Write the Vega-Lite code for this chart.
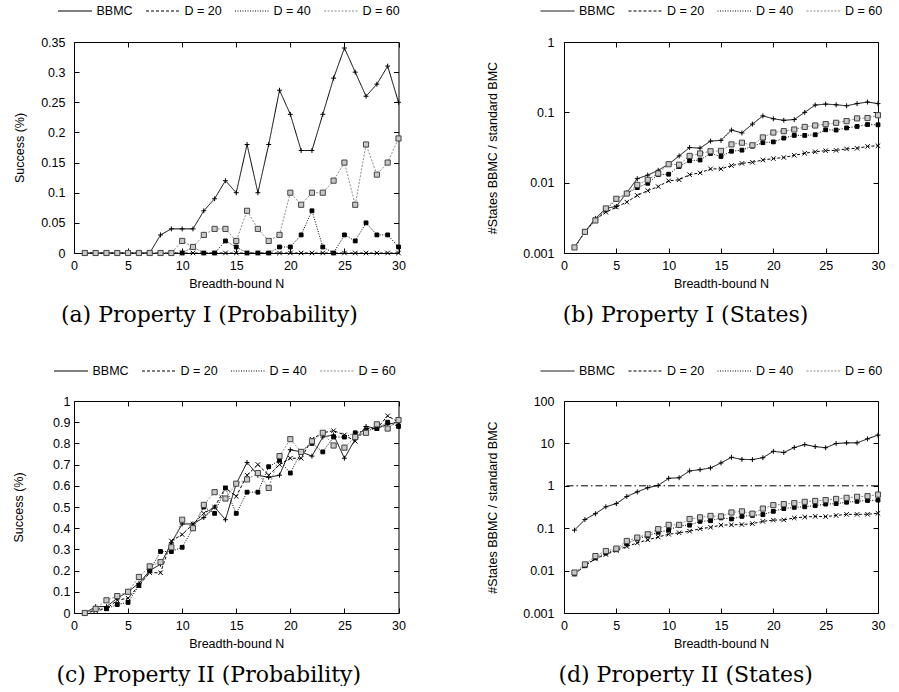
{
"$schema": "https://vega.github.io/schema/vega-lite/v6.json",
"padding": {"left": 11, "top": 3, "right": 0, "bottom": 0},
"autosize": {"type": "pad"},
"background": "white",
"datasets": {
"a": [
{"s":"BBMC","n":1,"v":0},{"s":"BBMC","n":2,"v":0},{"s":"BBMC","n":3,"v":0},{"s":"BBMC","n":4,"v":0},{"s":"BBMC","n":5,"v":0},{"s":"BBMC","n":6,"v":0},{"s":"BBMC","n":7,"v":0},{"s":"BBMC","n":8,"v":0.03},{"s":"BBMC","n":9,"v":0.04},{"s":"BBMC","n":10,"v":0.04},{"s":"BBMC","n":11,"v":0.04},{"s":"BBMC","n":12,"v":0.07},{"s":"BBMC","n":13,"v":0.09},{"s":"BBMC","n":14,"v":0.12},{"s":"BBMC","n":15,"v":0.10},{"s":"BBMC","n":16,"v":0.18},{"s":"BBMC","n":17,"v":0.10},{"s":"BBMC","n":18,"v":0.18},{"s":"BBMC","n":19,"v":0.27},{"s":"BBMC","n":20,"v":0.23},{"s":"BBMC","n":21,"v":0.17},{"s":"BBMC","n":22,"v":0.17},{"s":"BBMC","n":23,"v":0.23},{"s":"BBMC","n":24,"v":0.29},{"s":"BBMC","n":25,"v":0.34},{"s":"BBMC","n":26,"v":0.30},{"s":"BBMC","n":27,"v":0.26},{"s":"BBMC","n":28,"v":0.28},{"s":"BBMC","n":29,"v":0.31},{"s":"BBMC","n":30,"v":0.25},
{"s":"D = 20","n":1,"v":0},{"s":"D = 20","n":2,"v":0},{"s":"D = 20","n":3,"v":0},{"s":"D = 20","n":4,"v":0},{"s":"D = 20","n":5,"v":0},{"s":"D = 20","n":6,"v":0},{"s":"D = 20","n":7,"v":0},{"s":"D = 20","n":8,"v":0},{"s":"D = 20","n":9,"v":0},{"s":"D = 20","n":10,"v":0},{"s":"D = 20","n":11,"v":0},{"s":"D = 20","n":12,"v":0},{"s":"D = 20","n":13,"v":0},{"s":"D = 20","n":14,"v":0},{"s":"D = 20","n":15,"v":0},{"s":"D = 20","n":16,"v":0},{"s":"D = 20","n":17,"v":0},{"s":"D = 20","n":18,"v":0},{"s":"D = 20","n":19,"v":0},{"s":"D = 20","n":20,"v":0},{"s":"D = 20","n":21,"v":0},{"s":"D = 20","n":22,"v":0},{"s":"D = 20","n":23,"v":0},{"s":"D = 20","n":24,"v":0},{"s":"D = 20","n":25,"v":0},{"s":"D = 20","n":26,"v":0},{"s":"D = 20","n":27,"v":0},{"s":"D = 20","n":28,"v":0},{"s":"D = 20","n":29,"v":0},{"s":"D = 20","n":30,"v":0},
{"s":"D = 40","n":1,"v":0},{"s":"D = 40","n":2,"v":0},{"s":"D = 40","n":3,"v":0},{"s":"D = 40","n":4,"v":0},{"s":"D = 40","n":5,"v":0},{"s":"D = 40","n":6,"v":0},{"s":"D = 40","n":7,"v":0},{"s":"D = 40","n":8,"v":0},{"s":"D = 40","n":9,"v":0},{"s":"D = 40","n":10,"v":0},{"s":"D = 40","n":11,"v":0.01},{"s":"D = 40","n":12,"v":0},{"s":"D = 40","n":13,"v":0},{"s":"D = 40","n":14,"v":0.02},{"s":"D = 40","n":15,"v":0.01},{"s":"D = 40","n":16,"v":0},{"s":"D = 40","n":17,"v":0},{"s":"D = 40","n":18,"v":0},{"s":"D = 40","n":19,"v":0.01},{"s":"D = 40","n":20,"v":0.01},{"s":"D = 40","n":21,"v":0.03},{"s":"D = 40","n":22,"v":0.07},{"s":"D = 40","n":23,"v":0.01},{"s":"D = 40","n":24,"v":0},{"s":"D = 40","n":25,"v":0.03},{"s":"D = 40","n":26,"v":0.02},{"s":"D = 40","n":27,"v":0.05},{"s":"D = 40","n":28,"v":0.03},{"s":"D = 40","n":29,"v":0.03},{"s":"D = 40","n":30,"v":0.01},
{"s":"D = 60","n":1,"v":0},{"s":"D = 60","n":2,"v":0},{"s":"D = 60","n":3,"v":0},{"s":"D = 60","n":4,"v":0},{"s":"D = 60","n":5,"v":0},{"s":"D = 60","n":6,"v":0},{"s":"D = 60","n":7,"v":0},{"s":"D = 60","n":8,"v":0},{"s":"D = 60","n":9,"v":0},{"s":"D = 60","n":10,"v":0.02},{"s":"D = 60","n":11,"v":0.01},{"s":"D = 60","n":12,"v":0.03},{"s":"D = 60","n":13,"v":0.04},{"s":"D = 60","n":14,"v":0.04},{"s":"D = 60","n":15,"v":0.02},{"s":"D = 60","n":16,"v":0.07},{"s":"D = 60","n":17,"v":0.04},{"s":"D = 60","n":18,"v":0.02},{"s":"D = 60","n":19,"v":0.03},{"s":"D = 60","n":20,"v":0.10},{"s":"D = 60","n":21,"v":0.08},{"s":"D = 60","n":22,"v":0.10},{"s":"D = 60","n":23,"v":0.10},{"s":"D = 60","n":24,"v":0.12},{"s":"D = 60","n":25,"v":0.15},{"s":"D = 60","n":26,"v":0.08},{"s":"D = 60","n":27,"v":0.18},{"s":"D = 60","n":28,"v":0.13},{"s":"D = 60","n":29,"v":0.15},{"s":"D = 60","n":30,"v":0.19}
],
"b": [
{"s":"BBMC","n":1,"v":0.0012},{"s":"BBMC","n":2,"v":0.002},{"s":"BBMC","n":3,"v":0.0031},{"s":"BBMC","n":4,"v":0.0043},{"s":"BBMC","n":5,"v":0.0046},{"s":"BBMC","n":6,"v":0.0072},{"s":"BBMC","n":7,"v":0.0114},{"s":"BBMC","n":8,"v":0.0128},{"s":"BBMC","n":9,"v":0.015},{"s":"BBMC","n":10,"v":0.0183},{"s":"BBMC","n":11,"v":0.024},{"s":"BBMC","n":12,"v":0.0316},{"s":"BBMC","n":13,"v":0.031},{"s":"BBMC","n":14,"v":0.039},{"s":"BBMC","n":15,"v":0.040},{"s":"BBMC","n":16,"v":0.056},{"s":"BBMC","n":17,"v":0.051},{"s":"BBMC","n":18,"v":0.068},{"s":"BBMC","n":19,"v":0.089},{"s":"BBMC","n":20,"v":0.081},{"s":"BBMC","n":21,"v":0.077},{"s":"BBMC","n":22,"v":0.079},{"s":"BBMC","n":23,"v":0.10},{"s":"BBMC","n":24,"v":0.127},{"s":"BBMC","n":25,"v":0.131},{"s":"BBMC","n":26,"v":0.128},{"s":"BBMC","n":27,"v":0.124},{"s":"BBMC","n":28,"v":0.133},{"s":"BBMC","n":29,"v":0.14},{"s":"BBMC","n":30,"v":0.133},
{"s":"D = 20","n":1,"v":0.0012},{"s":"D = 20","n":2,"v":0.002},{"s":"D = 20","n":3,"v":0.003},{"s":"D = 20","n":4,"v":0.0038},{"s":"D = 20","n":5,"v":0.0045},{"s":"D = 20","n":6,"v":0.0053},{"s":"D = 20","n":7,"v":0.0066},{"s":"D = 20","n":8,"v":0.0077},{"s":"D = 20","n":9,"v":0.0088},{"s":"D = 20","n":10,"v":0.0106},{"s":"D = 20","n":11,"v":0.011},{"s":"D = 20","n":12,"v":0.013},{"s":"D = 20","n":13,"v":0.0138},{"s":"D = 20","n":14,"v":0.0157},{"s":"D = 20","n":15,"v":0.0157},{"s":"D = 20","n":16,"v":0.0175},{"s":"D = 20","n":17,"v":0.0188},{"s":"D = 20","n":18,"v":0.0195},{"s":"D = 20","n":19,"v":0.021},{"s":"D = 20","n":20,"v":0.022},{"s":"D = 20","n":21,"v":0.0228},{"s":"D = 20","n":22,"v":0.0245},{"s":"D = 20","n":23,"v":0.0262},{"s":"D = 20","n":24,"v":0.0275},{"s":"D = 20","n":25,"v":0.0285},{"s":"D = 20","n":26,"v":0.0288},{"s":"D = 20","n":27,"v":0.0302},{"s":"D = 20","n":28,"v":0.0308},{"s":"D = 20","n":29,"v":0.0328},{"s":"D = 20","n":30,"v":0.0335},
{"s":"D = 40","n":1,"v":0.0012},{"s":"D = 40","n":2,"v":0.002},{"s":"D = 40","n":3,"v":0.0029},{"s":"D = 40","n":4,"v":0.0041},{"s":"D = 40","n":5,"v":0.0058},{"s":"D = 40","n":6,"v":0.007},{"s":"D = 40","n":7,"v":0.0085},{"s":"D = 40","n":8,"v":0.0098},{"s":"D = 40","n":9,"v":0.013},{"s":"D = 40","n":10,"v":0.0132},{"s":"D = 40","n":11,"v":0.017},{"s":"D = 40","n":12,"v":0.0205},{"s":"D = 40","n":13,"v":0.021},{"s":"D = 40","n":14,"v":0.026},{"s":"D = 40","n":15,"v":0.0236},{"s":"D = 40","n":16,"v":0.028},{"s":"D = 40","n":17,"v":0.029},{"s":"D = 40","n":18,"v":0.033},{"s":"D = 40","n":19,"v":0.037},{"s":"D = 40","n":20,"v":0.038},{"s":"D = 40","n":21,"v":0.043},{"s":"D = 40","n":22,"v":0.047},{"s":"D = 40","n":23,"v":0.047},{"s":"D = 40","n":24,"v":0.048},{"s":"D = 40","n":25,"v":0.0564},{"s":"D = 40","n":26,"v":0.056},{"s":"D = 40","n":27,"v":0.060},{"s":"D = 40","n":28,"v":0.063},{"s":"D = 40","n":29,"v":0.067},{"s":"D = 40","n":30,"v":0.0665},
{"s":"D = 60","n":1,"v":0.0012},{"s":"D = 60","n":2,"v":0.002},{"s":"D = 60","n":3,"v":0.0029},{"s":"D = 60","n":4,"v":0.0043},{"s":"D = 60","n":5,"v":0.0059},{"s":"D = 60","n":6,"v":0.007},{"s":"D = 60","n":7,"v":0.0093},{"s":"D = 60","n":8,"v":0.011},{"s":"D = 60","n":9,"v":0.0135},{"s":"D = 60","n":10,"v":0.0183},{"s":"D = 60","n":11,"v":0.018},{"s":"D = 60","n":12,"v":0.024},{"s":"D = 60","n":13,"v":0.026},{"s":"D = 60","n":14,"v":0.028},{"s":"D = 60","n":15,"v":0.0283},{"s":"D = 60","n":16,"v":0.035},{"s":"D = 60","n":17,"v":0.037},{"s":"D = 60","n":18,"v":0.034},{"s":"D = 60","n":19,"v":0.044},{"s":"D = 60","n":20,"v":0.0516},{"s":"D = 60","n":21,"v":0.054},{"s":"D = 60","n":22,"v":0.057},{"s":"D = 60","n":23,"v":0.062},{"s":"D = 60","n":24,"v":0.065},{"s":"D = 60","n":25,"v":0.068},{"s":"D = 60","n":26,"v":0.071},{"s":"D = 60","n":27,"v":0.075},{"s":"D = 60","n":28,"v":0.082},{"s":"D = 60","n":29,"v":0.083},{"s":"D = 60","n":30,"v":0.091}
],
"c": [
{"s":"BBMC","n":1,"v":0},{"s":"BBMC","n":2,"v":0.03},{"s":"BBMC","n":3,"v":0.03},{"s":"BBMC","n":4,"v":0.07},{"s":"BBMC","n":5,"v":0.10},{"s":"BBMC","n":6,"v":0.14},{"s":"BBMC","n":7,"v":0.20},{"s":"BBMC","n":8,"v":0.23},{"s":"BBMC","n":9,"v":0.33},{"s":"BBMC","n":10,"v":0.42},{"s":"BBMC","n":11,"v":0.42},{"s":"BBMC","n":12,"v":0.45},{"s":"BBMC","n":13,"v":0.50},{"s":"BBMC","n":14,"v":0.44},{"s":"BBMC","n":15,"v":0.61},{"s":"BBMC","n":16,"v":0.71},{"s":"BBMC","n":17,"v":0.65},{"s":"BBMC","n":18,"v":0.64},{"s":"BBMC","n":19,"v":0.65},{"s":"BBMC","n":20,"v":0.77},{"s":"BBMC","n":21,"v":0.76},{"s":"BBMC","n":22,"v":0.74},{"s":"BBMC","n":23,"v":0.83},{"s":"BBMC","n":24,"v":0.84},{"s":"BBMC","n":25,"v":0.73},{"s":"BBMC","n":26,"v":0.82},{"s":"BBMC","n":27,"v":0.88},{"s":"BBMC","n":28,"v":0.87},{"s":"BBMC","n":29,"v":0.89},{"s":"BBMC","n":30,"v":0.90},
{"s":"D = 20","n":1,"v":0},{"s":"D = 20","n":2,"v":0.01},{"s":"D = 20","n":3,"v":0.02},{"s":"D = 20","n":4,"v":0.06},{"s":"D = 20","n":5,"v":0.07},{"s":"D = 20","n":6,"v":0.13},{"s":"D = 20","n":7,"v":0.19},{"s":"D = 20","n":8,"v":0.19},{"s":"D = 20","n":9,"v":0.34},{"s":"D = 20","n":10,"v":0.37},{"s":"D = 20","n":11,"v":0.42},{"s":"D = 20","n":12,"v":0.47},{"s":"D = 20","n":13,"v":0.50},{"s":"D = 20","n":14,"v":0.59},{"s":"D = 20","n":15,"v":0.55},{"s":"D = 20","n":16,"v":0.65},{"s":"D = 20","n":17,"v":0.70},{"s":"D = 20","n":18,"v":0.65},{"s":"D = 20","n":19,"v":0.70},{"s":"D = 20","n":20,"v":0.73},{"s":"D = 20","n":21,"v":0.73},{"s":"D = 20","n":22,"v":0.82},{"s":"D = 20","n":23,"v":0.85},{"s":"D = 20","n":24,"v":0.86},{"s":"D = 20","n":25,"v":0.84},{"s":"D = 20","n":26,"v":0.81},{"s":"D = 20","n":27,"v":0.87},{"s":"D = 20","n":28,"v":0.87},{"s":"D = 20","n":29,"v":0.93},{"s":"D = 20","n":30,"v":0.90},
{"s":"D = 40","n":1,"v":0},{"s":"D = 40","n":2,"v":0.02},{"s":"D = 40","n":3,"v":0.02},{"s":"D = 40","n":4,"v":0.04},{"s":"D = 40","n":5,"v":0.05},{"s":"D = 40","n":6,"v":0.13},{"s":"D = 40","n":7,"v":0.20},{"s":"D = 40","n":8,"v":0.29},{"s":"D = 40","n":9,"v":0.29},{"s":"D = 40","n":10,"v":0.31},{"s":"D = 40","n":11,"v":0.40},{"s":"D = 40","n":12,"v":0.50},{"s":"D = 40","n":13,"v":0.47},{"s":"D = 40","n":14,"v":0.59},{"s":"D = 40","n":15,"v":0.47},{"s":"D = 40","n":16,"v":0.57},{"s":"D = 40","n":17,"v":0.57},{"s":"D = 40","n":18,"v":0.69},{"s":"D = 40","n":19,"v":0.72},{"s":"D = 40","n":20,"v":0.66},{"s":"D = 40","n":21,"v":0.76},{"s":"D = 40","n":22,"v":0.80},{"s":"D = 40","n":23,"v":0.76},{"s":"D = 40","n":24,"v":0.83},{"s":"D = 40","n":25,"v":0.83},{"s":"D = 40","n":26,"v":0.85},{"s":"D = 40","n":27,"v":0.86},{"s":"D = 40","n":28,"v":0.87},{"s":"D = 40","n":29,"v":0.90},{"s":"D = 40","n":30,"v":0.88},
{"s":"D = 60","n":1,"v":0},{"s":"D = 60","n":2,"v":0.02},{"s":"D = 60","n":3,"v":0.06},{"s":"D = 60","n":4,"v":0.08},{"s":"D = 60","n":5,"v":0.10},{"s":"D = 60","n":6,"v":0.17},{"s":"D = 60","n":7,"v":0.22},{"s":"D = 60","n":8,"v":0.24},{"s":"D = 60","n":9,"v":0.31},{"s":"D = 60","n":10,"v":0.44},{"s":"D = 60","n":11,"v":0.40},{"s":"D = 60","n":12,"v":0.51},{"s":"D = 60","n":13,"v":0.57},{"s":"D = 60","n":14,"v":0.54},{"s":"D = 60","n":15,"v":0.61},{"s":"D = 60","n":16,"v":0.63},{"s":"D = 60","n":17,"v":0.66},{"s":"D = 60","n":18,"v":0.59},{"s":"D = 60","n":19,"v":0.74},{"s":"D = 60","n":20,"v":0.82},{"s":"D = 60","n":21,"v":0.76},{"s":"D = 60","n":22,"v":0.81},{"s":"D = 60","n":23,"v":0.85},{"s":"D = 60","n":24,"v":0.79},{"s":"D = 60","n":25,"v":0.78},{"s":"D = 60","n":26,"v":0.83},{"s":"D = 60","n":27,"v":0.85},{"s":"D = 60","n":28,"v":0.89},{"s":"D = 60","n":29,"v":0.87},{"s":"D = 60","n":30,"v":0.91}
],
"d": [
{"s":"BBMC","n":1,"v":0.09},{"s":"BBMC","n":2,"v":0.16},{"s":"BBMC","n":3,"v":0.22},{"s":"BBMC","n":4,"v":0.32},{"s":"BBMC","n":5,"v":0.38},{"s":"BBMC","n":6,"v":0.56},{"s":"BBMC","n":7,"v":0.72},{"s":"BBMC","n":8,"v":0.9},{"s":"BBMC","n":9,"v":1.02},{"s":"BBMC","n":10,"v":1.5},{"s":"BBMC","n":11,"v":1.55},{"s":"BBMC","n":12,"v":2.24},{"s":"BBMC","n":13,"v":2.4},{"s":"BBMC","n":14,"v":2.64},{"s":"BBMC","n":15,"v":3.46},{"s":"BBMC","n":16,"v":4.7},{"s":"BBMC","n":17,"v":4.2},{"s":"BBMC","n":18,"v":4.15},{"s":"BBMC","n":19,"v":4.6},{"s":"BBMC","n":20,"v":6.5},{"s":"BBMC","n":21,"v":6.1},{"s":"BBMC","n":22,"v":8.0},{"s":"BBMC","n":23,"v":9.4},{"s":"BBMC","n":24,"v":8.4},{"s":"BBMC","n":25,"v":7.9},{"s":"BBMC","n":26,"v":9.95},{"s":"BBMC","n":27,"v":10.3},{"s":"BBMC","n":28,"v":10.3},{"s":"BBMC","n":29,"v":12.8},{"s":"BBMC","n":30,"v":15.7},
{"s":"D = 20","n":1,"v":0.0083},{"s":"D = 20","n":2,"v":0.013},{"s":"D = 20","n":3,"v":0.019},{"s":"D = 20","n":4,"v":0.024},{"s":"D = 20","n":5,"v":0.03},{"s":"D = 20","n":6,"v":0.037},{"s":"D = 20","n":7,"v":0.045},{"s":"D = 20","n":8,"v":0.053},{"s":"D = 20","n":9,"v":0.062},{"s":"D = 20","n":10,"v":0.072},{"s":"D = 20","n":11,"v":0.078},{"s":"D = 20","n":12,"v":0.085},{"s":"D = 20","n":13,"v":0.097},{"s":"D = 20","n":14,"v":0.105},{"s":"D = 20","n":15,"v":0.118},{"s":"D = 20","n":16,"v":0.12},{"s":"D = 20","n":17,"v":0.122},{"s":"D = 20","n":18,"v":0.128},{"s":"D = 20","n":19,"v":0.145},{"s":"D = 20","n":20,"v":0.155},{"s":"D = 20","n":21,"v":0.157},{"s":"D = 20","n":22,"v":0.175},{"s":"D = 20","n":23,"v":0.183},{"s":"D = 20","n":24,"v":0.19},{"s":"D = 20","n":25,"v":0.188},{"s":"D = 20","n":26,"v":0.2},{"s":"D = 20","n":27,"v":0.212},{"s":"D = 20","n":28,"v":0.212},{"s":"D = 20","n":29,"v":0.213},{"s":"D = 20","n":30,"v":0.225},
{"s":"D = 40","n":1,"v":0.0083},{"s":"D = 40","n":2,"v":0.013},{"s":"D = 40","n":3,"v":0.02},{"s":"D = 40","n":4,"v":0.026},{"s":"D = 40","n":5,"v":0.031},{"s":"D = 40","n":6,"v":0.043},{"s":"D = 40","n":7,"v":0.056},{"s":"D = 40","n":8,"v":0.066},{"s":"D = 40","n":9,"v":0.08},{"s":"D = 40","n":10,"v":0.09},{"s":"D = 40","n":11,"v":0.115},{"s":"D = 40","n":12,"v":0.118},{"s":"D = 40","n":13,"v":0.145},{"s":"D = 40","n":14,"v":0.15},{"s":"D = 40","n":15,"v":0.175},{"s":"D = 40","n":16,"v":0.165},{"s":"D = 40","n":17,"v":0.19},{"s":"D = 40","n":18,"v":0.2},{"s":"D = 40","n":19,"v":0.21},{"s":"D = 40","n":20,"v":0.25},{"s":"D = 40","n":21,"v":0.29},{"s":"D = 40","n":22,"v":0.31},{"s":"D = 40","n":23,"v":0.32},{"s":"D = 40","n":24,"v":0.34},{"s":"D = 40","n":25,"v":0.37},{"s":"D = 40","n":26,"v":0.38},{"s":"D = 40","n":27,"v":0.41},{"s":"D = 40","n":28,"v":0.43},{"s":"D = 40","n":29,"v":0.45},{"s":"D = 40","n":30,"v":0.46},
{"s":"D = 60","n":1,"v":0.009},{"s":"D = 60","n":2,"v":0.014},{"s":"D = 60","n":3,"v":0.022},{"s":"D = 60","n":4,"v":0.029},{"s":"D = 60","n":5,"v":0.033},{"s":"D = 60","n":6,"v":0.05},{"s":"D = 60","n":7,"v":0.06},{"s":"D = 60","n":8,"v":0.072},{"s":"D = 60","n":9,"v":0.095},{"s":"D = 60","n":10,"v":0.12},{"s":"D = 60","n":11,"v":0.12},{"s":"D = 60","n":12,"v":0.165},{"s":"D = 60","n":13,"v":0.18},{"s":"D = 60","n":14,"v":0.195},{"s":"D = 60","n":15,"v":0.19},{"s":"D = 60","n":16,"v":0.235},{"s":"D = 60","n":17,"v":0.25},{"s":"D = 60","n":18,"v":0.22},{"s":"D = 60","n":19,"v":0.29},{"s":"D = 60","n":20,"v":0.35},{"s":"D = 60","n":21,"v":0.37},{"s":"D = 60","n":22,"v":0.39},{"s":"D = 60","n":23,"v":0.42},{"s":"D = 60","n":24,"v":0.44},{"s":"D = 60","n":25,"v":0.46},{"s":"D = 60","n":26,"v":0.49},{"s":"D = 60","n":27,"v":0.52},{"s":"D = 60","n":28,"v":0.55},{"s":"D = 60","n":29,"v":0.57},{"s":"D = 60","n":30,"v":0.62}
]
},
"columns": 2,
"align": "none",
"spacing": {"row": 37, "column": 79},
"resolve": {"scale": {"x": "independent", "y": "independent", "color": "independent", "strokeDash": "independent"}, "legend": {"color": "independent", "strokeDash": "independent"}},
"concat": [
{
"width": 324.5, "height": 211,
"data": {"name": "a"},
"title": {"text": "(a) Property I (Probability)", "orient": "bottom", "anchor": "middle", "frame": "bounds", "offset": 15},
"resolve": {"axis": {"x": "independent", "y": "independent"}},
"layer": [
{"mark": {"type": "line", "strokeWidth": 1},
"encoding": {
"x": {"field": "n", "type": "quantitative", "scale": {"domain": [0, 30], "nice": false}, "axis": {"orient": "bottom", "values": [0,5,10,15,20,25,30], "title": "Breadth-bound N", "labelPadding": 11.5, "titlePadding": 5}},
"y": {"field": "v", "type": "quantitative", "scale": {"domain": [0, 0.35], "nice": false}, "axis": {"orient": "left", "values": [0,0.05,0.1,0.15,0.2,0.25,0.3,0.35], "format": "~g", "title": "Success (%)", "labelPadding": 14, "titlePadding": 14.5}},
"color": {"field": "s", "type": "nominal", "scale": {"domain": ["BBMC","D = 20","D = 40","D = 60"], "range": ["black","black","black","#8c8c8c"]}, "legend": {"orient": "none", "legendX": -16.5, "legendY": -38, "direction": "horizontal", "title": null, "symbolType": "M-1,0H1", "symbolSize": 1156, "symbolStrokeWidth": 1, "columnPadding": 12, "clipHeight": 14}},
"strokeDash": {"field": "s", "type": "nominal", "scale": {"domain": ["BBMC","D = 20","D = 40","D = 60"], "range": [[1,0],[3,2],[1,1.5],[2,1.5]]}, "legend": {"orient": "none", "legendX": -16.5, "legendY": -38, "direction": "horizontal", "title": null, "symbolType": "M-1,0H1", "symbolSize": 1156, "symbolStrokeWidth": 1, "columnPadding": 12, "clipHeight": 14}}
}},
{"transform": [{"filter": "datum.s == 'BBMC'"}], "mark": {"type": "point", "shape": "M-1.1,0H1.1M0,-1.1V1.1", "size": 20, "filled": false, "stroke": "black", "strokeWidth": 1, "opacity": 1},
"encoding": {
"x": {"field": "n", "type": "quantitative", "scale": {"domain": [0, 30], "nice": false}, "axis": {"orient": "top", "values": [0,5,10,15,20,25,30], "labels": false, "title": null}},
"y": {"field": "v", "type": "quantitative", "scale": {"domain": [0, 0.35], "nice": false}, "axis": {"orient": "right", "values": [0,0.05,0.1,0.15,0.2,0.25,0.3,0.35], "labels": false, "title": null}}}},
{"transform": [{"filter": "datum.s == 'D = 20'"}], "mark": {"type": "point", "shape": "M-1,-1L1,1M-1,1L1,-1", "size": 20, "filled": false, "stroke": "black", "strokeWidth": 1, "opacity": 1},
"encoding": {"x": {"field": "n", "type": "quantitative", "axis": null}, "y": {"field": "v", "type": "quantitative", "axis": null}}},
{"transform": [{"filter": "datum.s == 'D = 40'"}], "mark": {"type": "point", "shape": "M-0.85,-0.85H0.85V0.85H-0.85Z", "size": 20, "filled": true, "fill": "black", "stroke": "black", "strokeWidth": 1, "opacity": 1},
"encoding": {"x": {"field": "n", "type": "quantitative", "axis": null}, "y": {"field": "v", "type": "quantitative", "axis": null}}},
{"transform": [{"filter": "datum.s == 'D = 60'"}], "mark": {"type": "point", "shape": "M-1.15,-1.15H1.15V1.15H-1.15Z", "size": 20, "filled": true, "fill": "#c8c8c8", "stroke": "#444444", "strokeWidth": 1, "opacity": 1},
"encoding": {"x": {"field": "n", "type": "quantitative", "axis": null}, "y": {"field": "v", "type": "quantitative", "axis": null}}}
]
},
{
"width": 314, "height": 211,
"data": {"name": "b"},
"title": {"text": "(b) Property I (States)", "orient": "bottom", "anchor": "middle", "frame": "bounds", "offset": 15},
"resolve": {"axis": {"x": "independent", "y": "independent"}},
"layer": [
{"mark": {"type": "line", "strokeWidth": 1},
"encoding": {
"x": {"field": "n", "type": "quantitative", "scale": {"domain": [0, 30], "nice": false}, "axis": {"orient": "bottom", "values": [0,5,10,15,20,25,30], "title": "Breadth-bound N", "labelPadding": 11.5, "titlePadding": 5}},
"y": {"field": "v", "type": "quantitative", "scale": {"type": "log", "domain": [0.001, 1], "nice": false}, "axis": {"orient": "left", "values": [0.001,0.01,0.1,1], "format": "~g", "title": "#States BBMC / standard BMC", "labelPadding": 15, "titlePadding": 23.5}},
"color": {"field": "s", "type": "nominal", "scale": {"domain": ["BBMC","D = 20","D = 40","D = 60"], "range": ["black","black","black","#8c8c8c"]}, "legend": {"orient": "none", "legendX": -24, "legendY": -38, "direction": "horizontal", "title": null, "symbolType": "M-1,0H1", "symbolSize": 1156, "symbolStrokeWidth": 1, "columnPadding": 12, "clipHeight": 14}},
"strokeDash": {"field": "s", "type": "nominal", "scale": {"domain": ["BBMC","D = 20","D = 40","D = 60"], "range": [[1,0],[3,2],[1,1.5],[2,1.5]]}, "legend": {"orient": "none", "legendX": -24, "legendY": -38, "direction": "horizontal", "title": null, "symbolType": "M-1,0H1", "symbolSize": 1156, "symbolStrokeWidth": 1, "columnPadding": 12, "clipHeight": 14}}
}},
{"transform": [{"filter": "datum.s == 'BBMC'"}], "mark": {"type": "point", "shape": "M-1.1,0H1.1M0,-1.1V1.1", "size": 20, "filled": false, "stroke": "black", "strokeWidth": 1, "opacity": 1},
"encoding": {
"x": {"field": "n", "type": "quantitative", "scale": {"domain": [0, 30], "nice": false}, "axis": {"orient": "top", "values": [0,5,10,15,20,25,30], "labels": false, "title": null}},
"y": {"field": "v", "type": "quantitative", "scale": {"type": "log", "domain": [0.001, 1], "nice": false}, "axis": {"orient": "right", "values": [0.001,0.01,0.1,1], "labels": false, "title": null}}}},
{"transform": [{"filter": "datum.s == 'D = 20'"}], "mark": {"type": "point", "shape": "M-1,-1L1,1M-1,1L1,-1", "size": 20, "filled": false, "stroke": "black", "strokeWidth": 1, "opacity": 1},
"encoding": {"x": {"field": "n", "type": "quantitative", "axis": null}, "y": {"field": "v", "type": "quantitative", "axis": null}}},
{"transform": [{"filter": "datum.s == 'D = 40'"}], "mark": {"type": "point", "shape": "M-0.85,-0.85H0.85V0.85H-0.85Z", "size": 20, "filled": true, "fill": "black", "stroke": "black", "strokeWidth": 1, "opacity": 1},
"encoding": {"x": {"field": "n", "type": "quantitative", "axis": null}, "y": {"field": "v", "type": "quantitative", "axis": null}}},
{"transform": [{"filter": "datum.s == 'D = 60'"}], "mark": {"type": "point", "shape": "M-1.15,-1.15H1.15V1.15H-1.15Z", "size": 20, "filled": true, "fill": "#c8c8c8", "stroke": "#444444", "strokeWidth": 1, "opacity": 1},
"encoding": {"x": {"field": "n", "type": "quantitative", "axis": null}, "y": {"field": "v", "type": "quantitative", "axis": null}}}
]
},
{
"width": 324.5, "height": 212,
"data": {"name": "c"},
"title": {"text": "(c) Property II (Probability)", "orient": "bottom", "anchor": "middle", "frame": "bounds", "offset": 15},
"resolve": {"axis": {"x": "independent", "y": "independent"}},
"layer": [
{"mark": {"type": "line", "strokeWidth": 1},
"encoding": {
"x": {"field": "n", "type": "quantitative", "scale": {"domain": [0, 30], "nice": false}, "axis": {"orient": "bottom", "values": [0,5,10,15,20,25,30], "title": "Breadth-bound N", "labelPadding": 11.5, "titlePadding": 5}},
"y": {"field": "v", "type": "quantitative", "scale": {"domain": [0, 1], "nice": false}, "axis": {"orient": "left", "values": [0,0.1,0.2,0.3,0.4,0.5,0.6,0.7,0.8,0.9,1], "format": "~g", "title": "Success (%)", "labelPadding": 9, "titlePadding": 27.5}},
"color": {"field": "s", "type": "nominal", "scale": {"domain": ["BBMC","D = 20","D = 40","D = 60"], "range": ["black","black","black","#8c8c8c"]}, "legend": {"orient": "none", "legendX": -20.5, "legendY": -37, "direction": "horizontal", "title": null, "symbolType": "M-1,0H1", "symbolSize": 1156, "symbolStrokeWidth": 1, "columnPadding": 12, "clipHeight": 14}},
"strokeDash": {"field": "s", "type": "nominal", "scale": {"domain": ["BBMC","D = 20","D = 40","D = 60"], "range": [[1,0],[3,2],[1,1.5],[2,1.5]]}, "legend": {"orient": "none", "legendX": -20.5, "legendY": -37, "direction": "horizontal", "title": null, "symbolType": "M-1,0H1", "symbolSize": 1156, "symbolStrokeWidth": 1, "columnPadding": 12, "clipHeight": 14}}
}},
{"transform": [{"filter": "datum.s == 'BBMC'"}], "mark": {"type": "point", "shape": "M-1.1,0H1.1M0,-1.1V1.1", "size": 20, "filled": false, "stroke": "black", "strokeWidth": 1, "opacity": 1},
"encoding": {
"x": {"field": "n", "type": "quantitative", "scale": {"domain": [0, 30], "nice": false}, "axis": {"orient": "top", "values": [0,5,10,15,20,25,30], "labels": false, "title": null}},
"y": {"field": "v", "type": "quantitative", "scale": {"domain": [0, 1], "nice": false}, "axis": {"orient": "right", "values": [0,0.1,0.2,0.3,0.4,0.5,0.6,0.7,0.8,0.9,1], "labels": false, "title": null}}}},
{"transform": [{"filter": "datum.s == 'D = 20'"}], "mark": {"type": "point", "shape": "M-1,-1L1,1M-1,1L1,-1", "size": 20, "filled": false, "stroke": "black", "strokeWidth": 1, "opacity": 1},
"encoding": {"x": {"field": "n", "type": "quantitative", "axis": null}, "y": {"field": "v", "type": "quantitative", "axis": null}}},
{"transform": [{"filter": "datum.s == 'D = 40'"}], "mark": {"type": "point", "shape": "M-0.85,-0.85H0.85V0.85H-0.85Z", "size": 20, "filled": true, "fill": "black", "stroke": "black", "strokeWidth": 1, "opacity": 1},
"encoding": {"x": {"field": "n", "type": "quantitative", "axis": null}, "y": {"field": "v", "type": "quantitative", "axis": null}}},
{"transform": [{"filter": "datum.s == 'D = 60'"}], "mark": {"type": "point", "shape": "M-1.15,-1.15H1.15V1.15H-1.15Z", "size": 20, "filled": true, "fill": "#c8c8c8", "stroke": "#444444", "strokeWidth": 1, "opacity": 1},
"encoding": {"x": {"field": "n", "type": "quantitative", "axis": null}, "y": {"field": "v", "type": "quantitative", "axis": null}}}
]
},
{
"width": 314, "height": 212,
"data": {"name": "d"},
"title": {"text": "(d) Property II (States)", "orient": "bottom", "anchor": "middle", "frame": "bounds", "offset": 15},
"resolve": {"axis": {"x": "independent", "y": "independent"}},
"layer": [
{"mark": {"type": "line", "strokeWidth": 1},
"encoding": {
"x": {"field": "n", "type": "quantitative", "scale": {"domain": [0, 30], "nice": false}, "axis": {"orient": "bottom", "values": [0,5,10,15,20,25,30], "title": "Breadth-bound N", "labelPadding": 11.5, "titlePadding": 5}},
"y": {"field": "v", "type": "quantitative", "scale": {"type": "log", "domain": [0.001, 100], "nice": false}, "axis": {"orient": "left", "values": [0.001,0.01,0.1,1,10,100], "format": "~g", "title": "#States BBMC / standard BMC", "labelPadding": 15, "titlePadding": 23.5}},
"color": {"field": "s", "type": "nominal", "scale": {"domain": ["BBMC","D = 20","D = 40","D = 60"], "range": ["black","black","black","#8c8c8c"]}, "legend": {"orient": "none", "legendX": -24, "legendY": -37, "direction": "horizontal", "title": null, "symbolType": "M-1,0H1", "symbolSize": 1156, "symbolStrokeWidth": 1, "columnPadding": 12, "clipHeight": 14}},
"strokeDash": {"field": "s", "type": "nominal", "scale": {"domain": ["BBMC","D = 20","D = 40","D = 60"], "range": [[1,0],[3,2],[1,1.5],[2,1.5]]}, "legend": {"orient": "none", "legendX": -24, "legendY": -37, "direction": "horizontal", "title": null, "symbolType": "M-1,0H1", "symbolSize": 1156, "symbolStrokeWidth": 1, "columnPadding": 12, "clipHeight": 14}}
}},
{"transform": [{"filter": "datum.s == 'BBMC'"}], "mark": {"type": "point", "shape": "M-1.1,0H1.1M0,-1.1V1.1", "size": 20, "filled": false, "stroke": "black", "strokeWidth": 1, "opacity": 1},
"encoding": {
"x": {"field": "n", "type": "quantitative", "scale": {"domain": [0, 30], "nice": false}, "axis": {"orient": "top", "values": [0,5,10,15,20,25,30], "labels": false, "title": null}},
"y": {"field": "v", "type": "quantitative", "scale": {"type": "log", "domain": [0.001, 100], "nice": false}, "axis": {"orient": "right", "values": [0.001,0.01,0.1,1,10,100], "labels": false, "title": null}}}},
{"transform": [{"filter": "datum.s == 'D = 20'"}], "mark": {"type": "point", "shape": "M-1,-1L1,1M-1,1L1,-1", "size": 20, "filled": false, "stroke": "black", "strokeWidth": 1, "opacity": 1},
"encoding": {"x": {"field": "n", "type": "quantitative", "axis": null}, "y": {"field": "v", "type": "quantitative", "axis": null}}},
{"transform": [{"filter": "datum.s == 'D = 40'"}], "mark": {"type": "point", "shape": "M-0.85,-0.85H0.85V0.85H-0.85Z", "size": 20, "filled": true, "fill": "black", "stroke": "black", "strokeWidth": 1, "opacity": 1},
"encoding": {"x": {"field": "n", "type": "quantitative", "axis": null}, "y": {"field": "v", "type": "quantitative", "axis": null}}},
{"transform": [{"filter": "datum.s == 'D = 60'"}], "mark": {"type": "point", "shape": "M-1.15,-1.15H1.15V1.15H-1.15Z", "size": 20, "filled": true, "fill": "#c8c8c8", "stroke": "#444444", "strokeWidth": 1, "opacity": 1},
"encoding": {"x": {"field": "n", "type": "quantitative", "axis": null}, "y": {"field": "v", "type": "quantitative", "axis": null}}},
{"data": {"values": [{"v": 1}]},
"mark": {"type": "rule", "stroke": "black", "strokeWidth": 1, "strokeDash": [7,3,1.5,3]},
"encoding": {"y": {"field": "v", "type": "quantitative", "axis": null}}}
]
}
],
"config": {
"view": {"stroke": "black", "strokeWidth": 1},
"font": "Liberation Sans",
"axis": {"labelFont": "Liberation Sans", "labelFontSize": 12.5, "labelColor": "black", "titleFont": "Liberation Sans", "titleFontSize": 12.5, "titleFontWeight": "normal", "titleColor": "black", "tickColor": "black", "tickSize": -5, "tickWidth": 1, "domain": false, "grid": false, "labelFlush": false, "labelOverlap": false, "labelBound": false},
"legend": {"labelFont": "Liberation Sans", "labelFontSize": 12.5, "labelColor": "black", "padding": 0},
"title": {"font": "DejaVu Serif", "fontSize": 22, "fontWeight": "normal", "color": "black"}
}
}
